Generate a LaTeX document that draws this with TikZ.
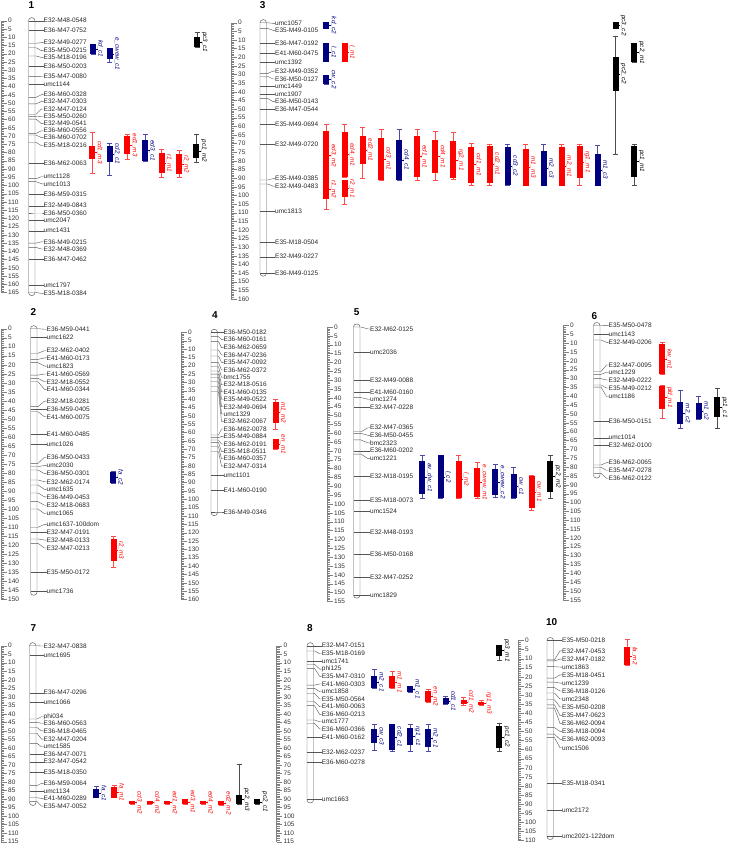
\documentclass[tikz,border=0pt]{standalone}
\usepackage{fontspec}
\setmainfont{Liberation Sans}

\definecolor{qblue}{RGB}{0,0,128}
\definecolor{qred}{RGB}{255,0,0}
\definecolor{qblack}{RGB}{0,0,0}
\definecolor{chromgray}{RGB}{85,85,85}

\tikzset{
  chrom/.style={draw=chromgray, line width=0.45pt, rounded corners=3pt},
  mline/.style={draw=chromgray, line width=0.4pt},
  rulerline/.style={draw=gray, line width=0.3pt},
  mlabel/.style={font=\fontsize{6.5}{7}\selectfont, anchor=west, inner sep=0pt, text=black!85},
  rlabel/.style={font=\fontsize{6.5}{7}\selectfont, anchor=west, inner sep=0pt, text=black!80},
  qlabel/.style={font=\fontsize{6.3}{7}\selectfont\itshape, rotate=-90, anchor=south, inner sep=0.6pt},
  ctitle/.style={font=\fontsize{10}{12}\selectfont\bfseries, inner sep=0pt}
}

\newcommand{\ruler}[2]{%
  \draw[rulerline] (#1,0) -- (#1,#2);
  \foreach \i in {0,...,#2} \draw[rulerline] (#1,\i) -- (#1+3,\i);
  \foreach \i in {0,5,...,#2} {
    \draw[rulerline] (#1,\i) -- (#1+5.5,\i);
    \node[rlabel] (r\i) at (#1+7,\i) {\i};
  }
}

\newcommand{\qtl}[7]{%
  \draw[#6!70!white, line width=0.5pt] (#1+3,#4) -- (#1+3,#5) (#1+0.5,#4) -- (#1+5.5,#4) (#1+0.5,#5) -- (#1+5.5,#5);
  \fill[#6] (#1,#2) rectangle (#1+6,#3);
  \draw[#6] (#1+6,{(#2+#3)/2}) -- (#1+7.5,{(#2+#3)/2});
  \node[qlabel, text=#6] (q) at (#1+7,{(#2+#3)/2}) {#7};
}

\begin{document}
\begin{tikzpicture}[x=1pt, y=-1pt]

\node[ctitle] (t1) at (31.5,5) {1};
\node[ctitle] (t3) at (262.7,5.5) {3};
\node[ctitle] (t2) at (33.3,312) {2};
\node[ctitle] (t4) at (215,315) {4};
\node[ctitle] (t5) at (356.7,312) {5};
\node[ctitle] (t6) at (594.3,315.7) {6};
\node[ctitle] (t7) at (33.3,628.3) {7};
\node[ctitle] (t8) at (310,628.3) {8};
\node[ctitle] (t10) at (551.7,622) {10};

% chromosome 1
\begin{scope}[xshift=28.5pt, yshift=-20.7pt, y=-1.6475pt]
\pgfmathsetmacro{\labx}{15}
\ruler{-27.5}{165}
\draw[chrom] ([yshift=3pt] 0,0) rectangle ([yshift=-3pt] 6.5,165);
\foreach \b/\l/\t [count=\k] in {0/0/E32-M48-0548, 5.8/5.8/E36-M47-0752, 13.7/13.3/E32-M49-0277, 16.4/18.2/E35-M50-0215, 21.4/22.3/E35-M18-0196, 27.7/27.7/E36-M50-0203, 33.9/34/E35-M47-0080, 38.4/38.4/umc1144, 46.5/44.9/E36-M60-0328, 50.5/49/E32-M47-0303, 56.8/53.6/E32-M47-0124, 58.2/58/E35-M50-0260, 59.7/62.5/E32-M49-0541, 68.4/66.8/E36-M60-0556, 69.4/71/E36-M60-0702, 73.8/75.9/E35-M18-0216, 86.4/86.4/E36-M62-0063, 95.9/94.7/umc1128, 97.7/99/umc1013, 105.6/105.6/E36-M59-0315, 112.3/112.3/E32-M49-0843, 116.6/116.6/E36-M50-0360, 121.2/121.2/umc2047, 127.5/127.5/umc1431, 135/134.2/E36-M49-0215, 137.6/138.6/E32-M48-0369, 144.9/144.9/E36-M47-0462, 160.5/160.5/umc1797, 165/165.5/E35-M18-0384} {
  \node[mlabel] (c1m\k) at (\labx,\l) {\t};
  \draw[mline] (0,\b) -- (7.5,\b) -- (\labx-2,\l) -- (c1m\k.west);
}
\qtl{61.5}{14}{20.4}{14}{20.4}{qblue}{kd\_c1}
\qtl{78.2}{16.8}{23.4}{16.8}{25.5}{qblue}{e\_cwew\_c1}
\qtl{165.5}{10.1}{16.1}{7}{16.1}{qblack}{pc3\_c1}
\qtl{60.8}{75.9}{83.9}{68}{92.6}{qred}{cd1\_m3}
\qtl{78.2}{75.9}{85.9}{74.1}{94.1}{qblue}{cd2\_c1}
\qtl{95.8}{70.2}{80.9}{69.2}{83.8}{qred}{ed1\_m3}
\qtl{113.5}{72.4}{85.2}{69.2}{85.2}{qblue}{ed3\_c1}
\qtl{130.2}{80.1}{92.6}{77.9}{95.1}{qred}{r1\_m1}
\qtl{147.5}{81.1}{93}{78.9}{95.1}{qred}{r2\_m2}
\qtl{164.8}{75}{83.2}{69.2}{85.8}{qblack}{pc1\_m2}
\end{scope}

% chromosome 3
\begin{scope}[xshift=260pt, yshift=-22.7pt, y=-1.727pt]
\pgfmathsetmacro{\labx}{15}
\ruler{-29}{160}
\draw[chrom] ([yshift=3pt] 0,0) rectangle ([yshift=-3pt] 6.5,145);
\foreach \b/\l/\t [count=\k] in {0/0.4/umc1057, 3.3/4.4/E35-M49-0105, 11.9/11.9/E36-M47-0192, 17.7/17.7/E41-M60-0475, 22.9/22.9/umc1392, 29.5/28/E32-M49-0352, 31/32.6/E36-M50-0127, 36.8/36.8/umc1449, 41.5/41.5/umc1907, 43.8/45.7/E36-M50-0143, 50.2/50.2/E36-M47-0544, 58.7/58.7/E35-M49-0694, 70.2/70.2/E32-M49-0720, 91.1/90.3/E35-M49-0385, 93.4/94.6/E32-M49-0483, 109/109/umc1813, 127/127/E35-M18-0504, 135.5/135.5/E32-M49-0227, 144.8/144.8/E36-M49-0125} {
  \node[mlabel] (c3m\k) at (\labx,\l) {\t};
  \draw[mline] (0,\b) -- (7.5,\b) -- (\labx-2,\l) -- (c3m\k.west);
}
\qtl{63.3}{-0.4}{3.5}{-0.4}{3.5}{qblue}{kd\_c2}
\qtl{63.3}{11.8}{22.6}{11.8}{22.6}{qblue}{l\_c1}
\qtl{81.7}{11.8}{22.6}{11.8}{22.6}{qred}{l\_m1}
\qtl{63.3}{30.3}{35.7}{30.3}{35.7}{qblue}{cw\_c2}
\qtl{63.3}{62.7}{91.1}{58.7}{91.1}{qred}{ed3\_m2}
\qtl{63.3}{91.1}{102.1}{91.1}{107.9}{qred}{r1\_m2}
\qtl{81.7}{63.5}{89.2}{58.7}{89.2}{qred}{ed4\_m1}
\qtl{81.7}{91.3}{100.8}{91.3}{105}{qred}{r2\_m1}
\qtl{99.7}{65.6}{81.8}{60.4}{90.1}{qred}{ed2\_m1}
\qtl{118}{66.6}{91.1}{61.7}{91.1}{qred}{cd3\_m1}
\qtl{136}{67.7}{91.1}{61.7}{91.1}{qblue}{cd4\_c1}
\qtl{154}{65.6}{89.5}{61.7}{91.1}{qred}{ed1\_m1}
\qtl{172.3}{67.7}{87.2}{62.7}{91.1}{qred}{cd4\_m1}
\qtl{190.3}{68.7}{90.1}{63.7}{90.5}{qred}{rg2\_m1}
\qtl{208.3}{71.8}{92.6}{69.8}{94.4}{qred}{cd1\_m1}
\qtl{226.7}{71.2}{92.6}{70.2}{94.4}{qred}{cd2\_m1}
\qtl{244.7}{72}{94}{70.2}{94.4}{qblue}{cd3\_c2}
\qtl{262.7}{73}{94.4}{70.2}{94.4}{qred}{m1\_m3}
\qtl{280.7}{74.1}{94.4}{70.2}{94.4}{qblue}{m2\_c3}
\qtl{298.7}{72}{94.4}{70.2}{94.4}{qred}{m2\_m1}
\qtl{316.7}{71.2}{90.1}{70.2}{94.4}{qred}{rg1\_m1}
\qtl{334.7}{76}{94.4}{71}{94.4}{qblue}{m1\_c3}
\qtl{352.7}{-0.4}{3.5}{-0.4}{3.5}{qblack}{pc3\_c2}
\qtl{352.7}{19.9}{39.5}{7.7}{76}{qblack}{pc2\_c2}
\qtl{371}{11.9}{22.8}{11.9}{22.8}{qblack}{pc2\_m1}
\qtl{371}{71.2}{89.2}{70.2}{94.4}{qblack}{pc1\_m1}
\end{scope}

% chromosome 2
\begin{scope}[xshift=30.5pt, yshift=-328.7pt, y=-1.805pt]
\pgfmathsetmacro{\labx}{16}
\ruler{-29.5}{150}
\draw[chrom] ([yshift=3pt] 0,0) rectangle ([yshift=-3pt] 6.5,146);
\foreach \b/\l/\t [count=\k] in {0/0.3/E36-M59-0441, 4.8/4.8/umc1622, 13.6/12.2/E32-M62-0402, 17/16.2/E41-M60-0173, 18.8/20.7/umc1823, 25.7/25.1/E41-M60-0569, 27.5/29.4/E32-M18-0552, 29.4/33.6/E41-M60-0344, 43.2/40.1/E32-M18-0281, 44.5/44.5/E36-M59-0405, 46/48.8/E41-M60-0075, 58.3/58.3/E41-M60-0485, 64/64/umc1026, 74.6/71.2/E36-M50-0433, 76.5/75.7/umc2030, 78.3/80.3/E36-M50-0301, 83.8/84.8/E32-M62-0174, 86.6/89/umc1635, 91/93.2/E36-M49-0453, 95.8/97.8/E32-M18-0683, 99.9/102.5/umc1065, 110/108.4/umc1637-100dom, 112.8/112.8/E32-M47-0191, 116.5/117.1/E32-M48-0133, 118.9/121.5/E32-M47-0213, 134.8/134.8/E35-M50-0172, 145.7/145.7/umc1736} {
  \node[mlabel] (c2m\k) at (\labx,\l) {\t};
  \draw[mline] (0,\b) -- (7.5,\b) -- (\labx-2,\l) -- (c2m\k.west);
}
\qtl{79.5}{79.2}{85.7}{79.2}{85.7}{qblue}{fa\_c2}
\qtl{80.2}{116.7}{128.5}{115.2}{132.2}{qred}{r2\_m3}
\end{scope}

% chromosome 4
\begin{scope}[xshift=211pt, yshift=-332.3pt, y=-1.67pt]
\pgfmathsetmacro{\labx}{12.5}
\ruler{-30}{160}
\draw[chrom] ([yshift=3pt] 0,0) rectangle ([yshift=-3pt] 6.5,108);
\foreach \b/\l/\t [count=\k] in {0/0/E36-M50-0182, 2.6/4.4/E36-M60-0161, 5.6/9.2/E36-M62-0659, 10.6/13.6/E36-M47-0236, 14.2/18/E35-M47-0092, 18.2/22.6/E36-M62-0372, 20.6/26.9/bmc1755, 23.2/31.4/E32-M18-0516, 25/35.7/E41-M60-0135, 26.9/40.1/E35-M49-0522, 29.6/44.6/E32-M49-0694, 32.6/48.9/umc1329, 35.6/53.3/E32-M62-0067, 61.5/57.9/E36-M62-0078, 63.1/62.3/E35-M49-0884, 64.5/66.9/E36-M62-0191, 66.1/71.3/E35-M18-0511, 68.5/75.7/E36-M60-0357, 71.5/80.1/E32-M47-0314, 85.4/85.4/umc1101, 94.8/94.8/E41-M60-0190, 107.6/107.6/E36-M49-0346} {
  \node[mlabel] (c4m\k) at (\labx,\l) {\t};
  \draw[mline] (0,\b) -- (7.5,\b) -- (\labx-2,\l) -- (c4m\k.west);
}
\qtl{61.7}{41.6}{54.5}{40.1}{57.9}{qred}{m1\_m2}
\qtl{61.7}{64.1}{69.9}{64.1}{69.9}{qred}{en\_m1}
\end{scope}

% chromosome 5
\begin{scope}[xshift=353.5pt, yshift=-327pt, y=-1.77pt]
\pgfmathsetmacro{\labx}{16.5}
\ruler{-26.5}{155}
\draw[chrom] ([yshift=3pt] 0,0) rectangle ([yshift=-3pt] 6.5,151.5);
\foreach \b/\l/\t [count=\k] in {0/1.1/E32-M62-0125, 14.3/14.3/umc2036, 30.1/30.1/E32-M49-0088, 36.6/36.6/E41-M60-0160, 39.9/40.8/umc1274, 45.4/45.4/E32-M47-0228, 59.2/56.9/E32-M47-0365, 60.1/61.2/E36-M50-0455, 63.8/65.5/bmc2323, 69.9/69.9/E36-M60-0202, 71.8/74.4/umc1221, 84.2/84.2/E32-M18-0195, 97.7/97.7/E35-M18-0073, 104/104/umc1524, 116/116/E32-M48-0193, 128.2/128.2/E36-M50-0168, 141.4/141.4/E32-M47-0252, 151.4/151.4/umc1829} {
  \node[mlabel] (c5m\k) at (\labx,\l) {\t};
  \draw[mline] (0,\b) -- (7.5,\b) -- (\labx-2,\l) -- (c5m\k.west);
}
\qtl{65.8}{75.7}{94.5}{72.5}{96.8}{qblue}{av\_dw\_c1}
\qtl{84.2}{72.5}{96.8}{72.5}{96.8}{qblue}{l\_c2}
\qtl{102.2}{75.7}{96.8}{72.5}{96.8}{qred}{l\_m2}
\qtl{120.8}{79.5}{96}{76.4}{96.8}{qred}{e\_cwew\_m1}
\qtl{138.8}{80.4}{94.9}{77.6}{96.2}{qblue}{e\_cwew\_c2}
\qtl{157.2}{83.2}{96.8}{79.5}{96.8}{qblue}{cw\_c1}
\qtl{175.2}{84}{102.1}{84}{103.4}{qred}{cw\_m1}
\qtl{193.8}{75.7}{93.4}{72.5}{96.8}{qblack}{pc2\_m2}
\end{scope}

% chromosome 6
\begin{scope}[xshift=593.5pt, yshift=-325.5pt, y=-1.77pt]
\pgfmathsetmacro{\labx}{15}
\ruler{-30.5}{155}
\draw[chrom] ([yshift=3pt] 0,0) rectangle ([yshift=-3pt] 6.5,84.5);
\foreach \b/\l/\t [count=\k] in {0/0.1/E35-M50-0478, 5/5/umc1143, 8.2/9.5/E32-M49-0206, 26/22.3/E32-M47-0095, 27.6/26.4/umc1229, 30/30.8/E32-M49-0222, 33.6/35.3/E35-M49-0212, 34.8/40.1/umc1186, 54.3/54.3/E36-M50-0151, 63.4/63.4/umc1014, 67.7/67.7/E32-M62-0100, 78.8/77.5/E36-M62-0065, 80.1/81.8/E35-M47-0278, 83.5/86.3/E36-M62-0122} {
  \node[mlabel] (c6m\k) at (\labx,\l) {\t};
  \draw[mline] (0,\b) -- (7.5,\b) -- (\labx-2,\l) -- (c6m\k.west);
}
\qtl{65.5}{10.6}{27.4}{9.7}{27.4}{qred}{kw\_m1}
\qtl{65.5}{34}{47.2}{34}{52.3}{qred}{pld\_m1}
\qtl{83.8}{43.4}{55.8}{36.4}{58.1}{qblue}{m2\_c2}
\qtl{102.2}{43.6}{53}{39.7}{53}{qblue}{m1\_c2}
\qtl{120.5}{40.6}{51.9}{35.5}{58.1}{qblack}{pc1\_c1}
\end{scope}

% chromosome 7
\begin{scope}[xshift=29.5pt, yshift=-645.7pt, y=-1.704pt]
\pgfmathsetmacro{\labx}{14}
\ruler{-28.5}{115}
\draw[chrom] ([yshift=3pt] 0,0) rectangle ([yshift=-3pt] 6.5,92);
\foreach \b/\l/\t [count=\k] in {0/0.2/E32-M47-0838, 5.6/5.6/umc1695, 27.6/27.6/E36-M47-0296, 33.2/33.2/umc1066, 43/41.7/phi034, 45/45.5/E36-M60-0563, 48/50/E36-M18-0465, 51.4/54.8/E32-M47-0204, 57.3/59.3/umc1585, 63.6/63.6/E36-M47-0071, 68.1/68.1/E32-M47-0542, 74.5/74.5/E35-M18-0350, 82.1/80.8/E36-M59-0064, 85.3/85.3/umc1134, 89.2/89.6/E41-M60-0289, 91.5/94.1/E35-M47-0052} {
  \node[mlabel] (c7m\k) at (\labx,\l) {\t};
  \draw[mline] (0,\b) -- (7.5,\b) -- (\labx-2,\l) -- (c7m\k.west);
}
\qtl{63.8}{84.1}{89.2}{82.2}{89.2}{qblue}{fa\_c1}
\qtl{81.5}{82.9}{89.2}{81.7}{89.2}{qred}{fa\_m1}
\qtl{99.5}{91}{93.1}{91}{93.1}{qred}{cd3\_m2}
\qtl{117.2}{91}{93.1}{91}{93.1}{qred}{cd4\_m2}
\qtl{134.8}{91}{93.1}{91}{93.1}{qred}{ed1\_m2}
\qtl{152.8}{90.1}{93.1}{90.1}{93.1}{qred}{ed3\_m1}
\qtl{170.5}{91}{93.1}{91}{93.1}{qred}{ed4\_m2}
\qtl{188.5}{91.3}{93.5}{91.3}{93.5}{qred}{ed2\_m2}
\qtl{206.5}{87.6}{93.1}{69.6}{93.1}{qblack}{pc2\_m3}
\qtl{224.8}{90.1}{93.1}{90.1}{93.1}{qblack}{pc2\_c1}
\end{scope}

% chromosome 8
\begin{scope}[xshift=307pt, yshift=-645.7pt, y=-1.704pt]
\pgfmathsetmacro{\labx}{14.7}
\ruler{-30.5}{115}
\draw[chrom] ([yshift=3pt] 0,0) rectangle ([yshift=-3pt] 6.5,90.5);
\foreach \b/\l/\t [count=\k] in {0/0/E32-M47-0151, 3.1/4.7/E35-M18-0169, 9/9/umc1741, 10.9/13.7/phi125, 13.3/18/E35-M47-0310, 23.1/22.5/E41-M60-0303, 25/27/umc1858, 27.9/31.3/E35-M50-0564, 32.9/35.8/E41-M60-0063, 35.2/40.3/E36-M60-0213, 43.6/44.6/umc1777, 45.5/48.9/E36-M60-0366, 53.8/53.8/E41-M60-0162, 62.6/62.6/E32-M62-0237, 68.4/68.4/E36-M60-0278, 90.1/90.1/umc1663} {
  \node[mlabel] (c8m\k) at (\labx,\l) {\t};
  \draw[mline] (0,\b) -- (7.5,\b) -- (\labx-2,\l) -- (c8m\k.west);
}
\qtl{64}{17.8}{25}{13.8}{25}{qblue}{m2\_c1}
\qtl{82}{17.8}{25}{14.8}{25}{qred}{m1\_m1}
\qtl{100}{23.7}{27.3}{23.7}{27.3}{qblue}{m1\_c1}
\qtl{118}{26.6}{32.9}{25.6}{32.9}{qred}{en\_m2}
\qtl{135.7}{30.9}{34.4}{29.9}{34.4}{qblue}{cd1\_c1}
\qtl{153.7}{31.7}{34.4}{30.5}{34.8}{qred}{cd1\_m2}
\qtl{171.3}{32.9}{34.8}{32.3}{34.8}{qred}{rg1\_m3}
\qtl{189.3}{-0.4}{6}{-0.4}{8.4}{qblack}{pc3\_m1}
\qtl{64}{48.9}{57.3}{46}{61.2}{qblue}{cw\_c3}
\qtl{82}{46.1}{61.2}{46.1}{62.2}{qblue}{cd2\_c1}
\qtl{100}{48.1}{58.3}{46}{62.2}{qblue}{rg1\_c1}
\qtl{118}{48.9}{59.6}{46}{62.2}{qblue}{m2\_c1}
\qtl{189.3}{46.9}{60.2}{45.5}{62.2}{qblack}{pc1\_c2}
\end{scope}

% chromosome 10
\begin{scope}[xshift=547pt, yshift=-640.5pt, y=-1.818pt]
\pgfmathsetmacro{\labx}{15}
\ruler{-29}{110}
\draw[chrom] ([yshift=3pt] 0,0) rectangle ([yshift=-3pt] 6.5,107.8);
\foreach \b/\l/\t [count=\k] in {0/0/E35-M50-0218, 10.6/5.7/E32-M47-0453, 11.2/10.2/E32-M47-0182, 14.4/14.6/umc1863, 20.7/18.9/E35-M18-0451, 22.9/23.4/umc1239, 25.9/27.8/E36-M18-0126, 28.9/32.2/umc2348, 32.6/36.6/E35-M50-0208, 35.4/41.2/E35-M47-0623, 37.2/45.6/E36-M62-0094, 47.9/50/E36-M18-0094, 51.5/54.4/E36-M62-0093, 53.4/59/umc1506, 78.6/78.6/E35-M18-0341, 93.3/93.3/umc2172, 107.6/107.6/umc2021-122dom} {
  \node[mlabel] (c10m\k) at (\labx,\l) {\t};
  \draw[mline] (0,\b) -- (7.5,\b) -- (\labx-2,\l) -- (c10m\k.west);
}
\qtl{77.3}{3.4}{13.5}{-0.7}{13.5}{qred}{fa\_m2}
\end{scope}

\useasboundingbox (0,0) rectangle (728,846);
\end{tikzpicture}
\end{document}
